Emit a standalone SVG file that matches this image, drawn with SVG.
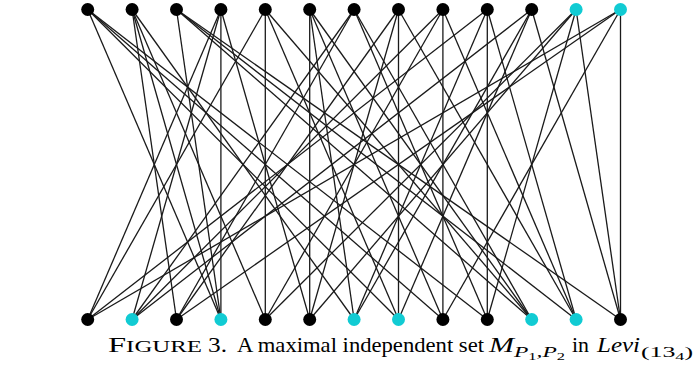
<svg xmlns="http://www.w3.org/2000/svg" width="697" height="366" viewBox="0 0 697 366">
<style>
.e{stroke:#1a1a1a;stroke-width:1.3;fill:none}
.b{fill:#000}
.c{fill:#11cbd3}
.t{font-family:"Liberation Serif","DejaVu Serif",serif;fill:#000}
.i{font-style:italic}
</style>
<rect width="697" height="366" fill="#fff"/>
<g id="connectors">
<line class="e" x1="87.7" y1="9.5" x2="220.9" y2="319.5"/>
<line class="e" x1="87.7" y1="9.5" x2="398.5" y2="319.5"/>
<line class="e" x1="87.7" y1="9.5" x2="442.9" y2="319.5"/>
<line class="e" x1="87.7" y1="9.5" x2="487.3" y2="319.5"/>
<line class="e" x1="132.1" y1="9.5" x2="176.5" y2="319.5"/>
<line class="e" x1="132.1" y1="9.5" x2="220.9" y2="319.5"/>
<line class="e" x1="132.1" y1="9.5" x2="265.3" y2="319.5"/>
<line class="e" x1="132.1" y1="9.5" x2="354.1" y2="319.5"/>
<line class="e" x1="176.5" y1="9.5" x2="220.9" y2="319.5"/>
<line class="e" x1="176.5" y1="9.5" x2="531.7" y2="319.5"/>
<line class="e" x1="176.5" y1="9.5" x2="576.1" y2="319.5"/>
<line class="e" x1="176.5" y1="9.5" x2="620.5" y2="319.5"/>
<line class="e" x1="220.9" y1="9.5" x2="87.7" y2="319.5"/>
<line class="e" x1="220.9" y1="9.5" x2="132.1" y2="319.5"/>
<line class="e" x1="220.9" y1="9.5" x2="220.9" y2="319.5"/>
<line class="e" x1="220.9" y1="9.5" x2="309.7" y2="319.5"/>
<line class="e" x1="265.3" y1="9.5" x2="87.7" y2="319.5"/>
<line class="e" x1="265.3" y1="9.5" x2="265.3" y2="319.5"/>
<line class="e" x1="265.3" y1="9.5" x2="398.5" y2="319.5"/>
<line class="e" x1="265.3" y1="9.5" x2="531.7" y2="319.5"/>
<line class="e" x1="309.7" y1="9.5" x2="309.7" y2="319.5"/>
<line class="e" x1="309.7" y1="9.5" x2="354.1" y2="319.5"/>
<line class="e" x1="309.7" y1="9.5" x2="442.9" y2="319.5"/>
<line class="e" x1="309.7" y1="9.5" x2="531.7" y2="319.5"/>
<line class="e" x1="354.1" y1="9.5" x2="132.1" y2="319.5"/>
<line class="e" x1="354.1" y1="9.5" x2="176.5" y2="319.5"/>
<line class="e" x1="354.1" y1="9.5" x2="487.3" y2="319.5"/>
<line class="e" x1="354.1" y1="9.5" x2="531.7" y2="319.5"/>
<line class="e" x1="398.5" y1="9.5" x2="176.5" y2="319.5"/>
<line class="e" x1="398.5" y1="9.5" x2="309.7" y2="319.5"/>
<line class="e" x1="398.5" y1="9.5" x2="398.5" y2="319.5"/>
<line class="e" x1="398.5" y1="9.5" x2="576.1" y2="319.5"/>
<line class="e" x1="442.9" y1="9.5" x2="132.1" y2="319.5"/>
<line class="e" x1="442.9" y1="9.5" x2="265.3" y2="319.5"/>
<line class="e" x1="442.9" y1="9.5" x2="442.9" y2="319.5"/>
<line class="e" x1="442.9" y1="9.5" x2="576.1" y2="319.5"/>
<line class="e" x1="487.3" y1="9.5" x2="87.7" y2="319.5"/>
<line class="e" x1="487.3" y1="9.5" x2="354.1" y2="319.5"/>
<line class="e" x1="487.3" y1="9.5" x2="487.3" y2="319.5"/>
<line class="e" x1="487.3" y1="9.5" x2="576.1" y2="319.5"/>
<line class="e" x1="531.7" y1="9.5" x2="132.1" y2="319.5"/>
<line class="e" x1="531.7" y1="9.5" x2="354.1" y2="319.5"/>
<line class="e" x1="531.7" y1="9.5" x2="398.5" y2="319.5"/>
<line class="e" x1="531.7" y1="9.5" x2="620.5" y2="319.5"/>
<line class="e" x1="576.1" y1="9.5" x2="265.3" y2="319.5"/>
<line class="e" x1="576.1" y1="9.5" x2="309.7" y2="319.5"/>
<line class="e" x1="576.1" y1="9.5" x2="487.3" y2="319.5"/>
<line class="e" x1="576.1" y1="9.5" x2="620.5" y2="319.5"/>
<line class="e" x1="620.5" y1="9.5" x2="87.7" y2="319.5"/>
<line class="e" x1="620.5" y1="9.5" x2="176.5" y2="319.5"/>
<line class="e" x1="620.5" y1="9.5" x2="442.9" y2="319.5"/>
<line class="e" x1="620.5" y1="9.5" x2="620.5" y2="319.5"/>
</g>
<g id="top-nodes">
<circle id="t0" class="b" cx="87.7" cy="9.5" r="6.5"/>
<circle id="t1" class="b" cx="132.1" cy="9.5" r="6.5"/>
<circle id="t2" class="b" cx="176.5" cy="9.5" r="6.5"/>
<circle id="t3" class="b" cx="220.9" cy="9.5" r="6.5"/>
<circle id="t4" class="b" cx="265.3" cy="9.5" r="6.5"/>
<circle id="t5" class="b" cx="309.7" cy="9.5" r="6.5"/>
<circle id="t6" class="b" cx="354.1" cy="9.5" r="6.5"/>
<circle id="t7" class="b" cx="398.5" cy="9.5" r="6.5"/>
<circle id="t8" class="b" cx="442.9" cy="9.5" r="6.5"/>
<circle id="t9" class="b" cx="487.3" cy="9.5" r="6.5"/>
<circle id="t10" class="b" cx="531.7" cy="9.5" r="6.5"/>
<circle id="t11" class="c" cx="576.1" cy="9.5" r="6.5"/>
<circle id="t12" class="c" cx="620.5" cy="9.5" r="6.5"/>
</g>
<g id="bottom-nodes">
<circle id="b0" class="b" cx="87.7" cy="319.5" r="6.5"/>
<circle id="b1" class="c" cx="132.1" cy="319.5" r="6.5"/>
<circle id="b2" class="b" cx="176.5" cy="319.5" r="6.5"/>
<circle id="b3" class="c" cx="220.9" cy="319.5" r="6.5"/>
<circle id="b4" class="b" cx="265.3" cy="319.5" r="6.5"/>
<circle id="b5" class="b" cx="309.7" cy="319.5" r="6.5"/>
<circle id="b6" class="c" cx="354.1" cy="319.5" r="6.5"/>
<circle id="b7" class="c" cx="398.5" cy="319.5" r="6.5"/>
<circle id="b8" class="b" cx="442.9" cy="319.5" r="6.5"/>
<circle id="b9" class="b" cx="487.3" cy="319.5" r="6.5"/>
<circle id="b10" class="c" cx="531.7" cy="319.5" r="6.5"/>
<circle id="b11" class="c" cx="576.1" cy="319.5" r="6.5"/>
<circle id="b12" class="b" cx="620.5" cy="319.5" r="6.5"/>
</g>
<g id="caption">
<text class="t" x="108" y="352" font-size="21" textLength="94" lengthAdjust="spacingAndGlyphs">F<tspan font-size="16">IGURE</tspan></text>
<text class="t" x="208" y="352" font-size="21" textLength="19" lengthAdjust="spacingAndGlyphs">3.</text>
<text class="t" x="237" y="352" font-size="21" textLength="247" lengthAdjust="spacingAndGlyphs">A maximal independent set</text>
<text class="t i" x="489" y="352" font-size="21" textLength="25" lengthAdjust="spacingAndGlyphs">M</text>
<text class="t" x="514" y="357" font-size="15" textLength="51" lengthAdjust="spacingAndGlyphs"><tspan class="i">P</tspan><tspan font-size="10.5" dy="3">1</tspan><tspan dy="-3" class="i">,P</tspan><tspan font-size="10.5" dy="3">2</tspan></text>
<text class="t" x="572" y="352" font-size="21" textLength="17" lengthAdjust="spacingAndGlyphs">in</text>
<text class="t i" x="597" y="352" font-size="21" textLength="43" lengthAdjust="spacingAndGlyphs">Levi</text>
<text class="t" x="641" y="357" font-size="15" textLength="52" lengthAdjust="spacingAndGlyphs">(13<tspan font-size="10.5" dy="3">4</tspan><tspan dy="-3">)</tspan></text>
</g>
</svg>
